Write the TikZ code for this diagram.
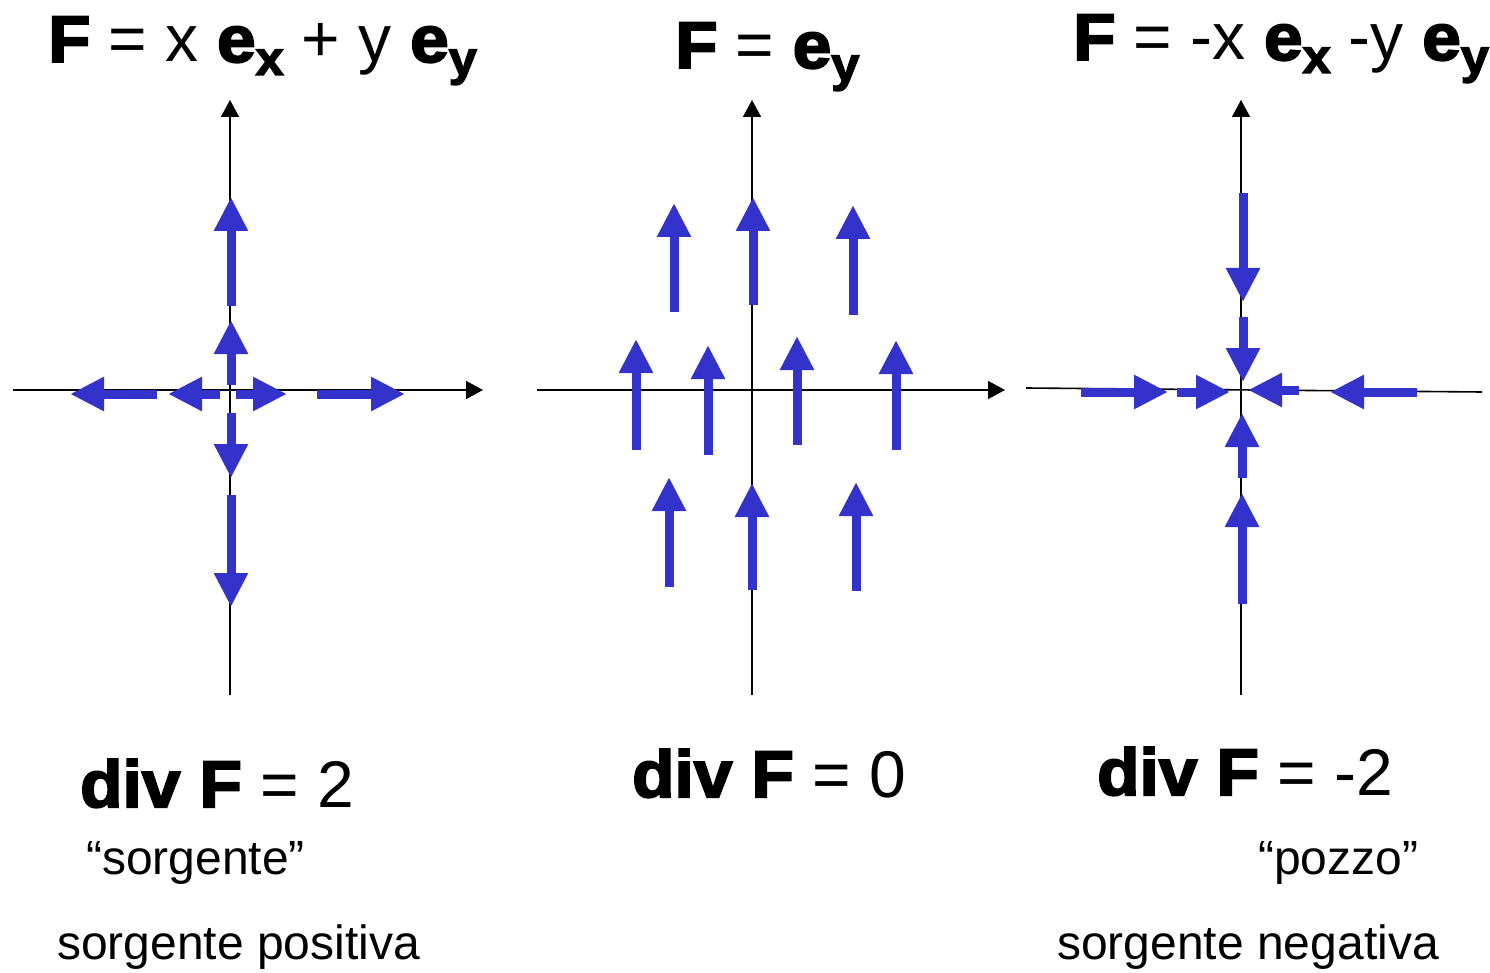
\documentclass[tikz,border=0pt]{standalone}
\usepackage{fontspec}
\setmainfont{Liberation Sans}
\newfontfamily\blk{Liberation Sans Bold}[FakeBold=3,FakeStretch=1.05]
\newfontfamily\reg{Liberation Sans}
\usetikzlibrary{arrows.meta}
\definecolor{vblue}{RGB}{51,51,204}
\tikzset{
  vec/.style={draw=vblue, line width=9pt, -{Triangle[width=32pt,length=34pt]}},
  axis/.style={draw=black, line width=1.6pt},
  axtip/.style={-{Triangle[width=18pt,length=17pt]}},
  txt/.style={inner sep=0pt, anchor=base west},
}
\newcommand\bigt{\fontsize{66}{70}\selectfont}
\newcommand\subt{\fontsize{48}{50}\selectfont}
\newcommand\smt{\fontsize{48}{52}\selectfont}
\newcommand\sbx[1]{\raisebox{-13pt}{\subt\blk #1}}
\begin{document}
\begin{tikzpicture}[x=1pt,y=-1pt]
\useasboundingbox (0,0) rectangle (1490,973);
% ---------- titles ----------
\node[txt] (t1) at (48,62) {\bigt{\blk F} = x {\blk e}\sbx{x} + y {\blk e}\sbx{y}};
\node[txt] (t2) at (675,68) {\bigt{\blk F} = {\blk e}\sbx{y}};
\node[txt] (t3) at (1073,60) {\bigt{\blk F} = -x {\blk e}\sbx{x} -y {\blk e}\sbx{y}};
% ---------- panel 1 ----------
\draw[axis,axtip] (13,390) -- (483,390);
\draw[axis,axtip] (230,695) -- (230,100);
\draw[vec] (231,306) -- (231,197);
\draw[vec] (231,385) -- (231,320);
\draw[vec] (231,413) -- (231,478);
\draw[vec] (231,495) -- (231,607);
\draw[vec] (157,394) -- (70,394);
\draw[vec] (220,394) -- (168,394);
\draw[vec] (236,394) -- (287,394);
\draw[vec] (317,394) -- (405,394);
% ---------- panel 2 ----------
\draw[axis,axtip] (537,390) -- (1005,390);
\draw[axis,axtip] (752,695) -- (752,100);
\draw[vec] (674,312) -- (674,203);
\draw[vec] (753,305) -- (753,197);
\draw[vec] (853,315) -- (853,205);
\draw[vec] (636,450) -- (636,339);
\draw[vec] (708,455) -- (708,345);
\draw[vec] (797,445) -- (797,336);
\draw[vec] (896,450) -- (896,340);
\draw[vec] (669,587) -- (669,477);
\draw[vec] (752,590) -- (752,483);
\draw[vec] (856,591) -- (856,482);
% ---------- panel 3 ----------
\draw[axis] (1026,388) -- (1482,392);
\draw[axis,axtip] (1241,695) -- (1241,100);
\draw[vec] (1243,193) -- (1243,302);
\draw[vec] (1243,317) -- (1243,382);
\draw[vec] (1242,478) -- (1242,413);
\draw[vec] (1242,604) -- (1242,493);
\draw[vec] (1081,392) -- (1168,392);
\draw[vec] (1177,392) -- (1230,392);
\draw[vec] (1299,390) -- (1248,390);
\draw[vec] (1417,392) -- (1330,392);
% ---------- bottom texts ----------
\node[txt] (d1) at (80,807) {\bigt{\blk div F} = 2};
\node[txt] (d2) at (632,797) {\bigt{\blk div F} = 0};
\node[txt] (d3) at (1097,795) {\bigt{\blk div F} = -2};
\node[txt] (s1) at (86,874) {\smt “sorgente”};
\node[txt] (s2) at (57,959) {\smt sorgente positiva};
\node[txt] (p1) at (1258,874) {\smt “pozzo”};
\node[txt] (p2) at (1057,959) {\smt sorgente negativa};
\end{tikzpicture}
\end{document}
